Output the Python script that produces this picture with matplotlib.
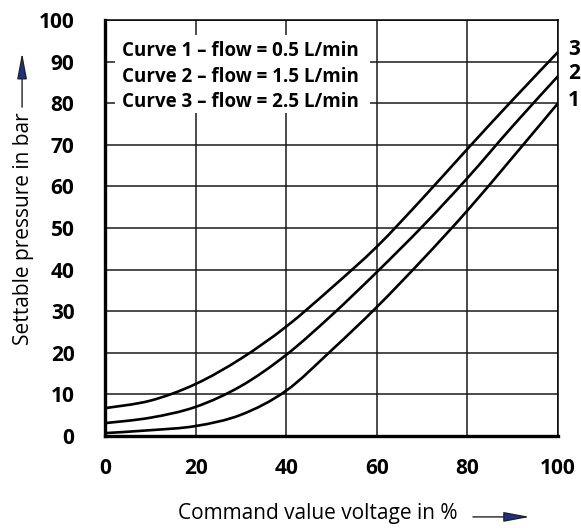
import matplotlib.pyplot as plt
from matplotlib.patches import Rectangle, FancyArrowPatch, PathPatch
from matplotlib.path import Path

plt.rcParams['font.family'] = ['Open Sans', 'DejaVu Sans']

# command value voltage (%) and settable pressure (bar) for each flow rate
voltage = [0, 10, 20, 30, 40, 50, 60, 70, 80, 90, 100]
curve1 = [0.7, 1.4, 2.4, 5.1, 10.9, 20.6, 31.0, 42.3, 54.2, 67.0, 80.0]
curve2 = [3.1, 4.4, 7.0, 12.0, 19.5, 29.0, 39.4, 50.3, 62.0, 74.5, 86.5]
curve3 = [6.7, 8.5, 12.5, 18.6, 26.3, 35.6, 45.5, 57.0, 69.0, 80.8, 92.3]
curve_names = ['1', '2', '3']
legend_lines = ['Curve 1 \u2013 flow = 0.5 L/min',
                'Curve 2 \u2013 flow = 1.5 L/min',
                'Curve 3 \u2013 flow = 2.5 L/min']
x_ticks = [0, 20, 40, 60, 80, 100]
y_ticks = [0, 10, 20, 30, 40, 50, 60, 70, 80, 90, 100]


def smooth_path(xs, ys):
    # Catmull-Rom through the points, written as cubic Bezier segments
    pts = list(zip(xs, ys))
    ext = [pts[0]] + pts + [pts[-1]]
    verts = [pts[0]]
    codes = [Path.MOVETO]
    for i in range(1, len(ext) - 2):
        p0, p1, p2, p3 = ext[i - 1], ext[i], ext[i + 1], ext[i + 2]
        c1 = (p1[0] + (p2[0] - p0[0]) / 6, p1[1] + (p2[1] - p0[1]) / 6)
        c2 = (p2[0] - (p3[0] - p1[0]) / 6, p2[1] - (p3[1] - p1[1]) / 6)
        verts += [c1, c2, p2]
        codes += [Path.CURVE4] * 3
    return Path(verts, codes)


fig = plt.figure(figsize=(5.81, 5.28), dpi=100)
ax = fig.add_axes([0.1807, 0.1742, 0.7797, 0.7879])

ax.set_xlim(0, 100)
ax.set_ylim(0, 100)
ax.set_xticks(x_ticks)
ax.set_yticks(y_ticks)
ax.tick_params(length=0, labelsize=15)
ax.tick_params(axis='x', pad=16)
ax.tick_params(axis='y', pad=22)
for lab in ax.get_xticklabels() + ax.get_yticklabels():
    lab.set_fontweight('bold')
ax.grid(True, color='#1a1a1a', lw=1.1, zorder=1)
ax.set_axisbelow(True)

for side in ['left', 'bottom']:
    ax.spines[side].set_linewidth(2.4)
for side in ['top', 'right']:
    ax.spines[side].set_linewidth(1.1)

for ys in [curve1, curve2, curve3]:
    ax.add_patch(PathPatch(smooth_path(voltage, ys), facecolor='none',
                           edgecolor='black', lw=1.9, zorder=3))

# curve numbers at the right-hand ends
for name, ys in zip(curve_names, [curve1, curve2, curve3]):
    ax.text(102.2, ys[-1] + 0.6, name, fontsize=15, fontweight='bold',
            ha='left', va='center', clip_on=False)

# white box holding the flow legend
ax.add_patch(Rectangle((2.2, 77.6), 56.3, 18.8, facecolor='white',
                       edgecolor='none', zorder=2))
for i, line in enumerate(legend_lines):
    ax.text(3.7, 91.3 - 6.1 * i, line, fontsize=13.5, fontweight='bold',
            ha='left', va='baseline', zorder=4)

fig.text(0.040, 0.566, 'Settable pressure in bar', rotation=90,
         fontsize=15, ha='center', va='center')
fig.text(0.547, 0.027, 'Command value voltage in %', fontsize=15,
         ha='center', va='center')

arrow_kw = dict(arrowstyle='-|>,head_length=0.8,head_width=0.15',
                mutation_scale=20, edgecolor='#222222', facecolor='#1f2f8c',
                lw=1.0, transform=fig.transFigure, shrinkA=0, shrinkB=0)
fig.patches.append(FancyArrowPatch((0.038, 0.797), (0.038, 0.900), **arrow_kw))
fig.patches.append(FancyArrowPatch((0.814, 0.021), (0.912, 0.021), **arrow_kw))

fig.savefig('out.png', dpi=100)
